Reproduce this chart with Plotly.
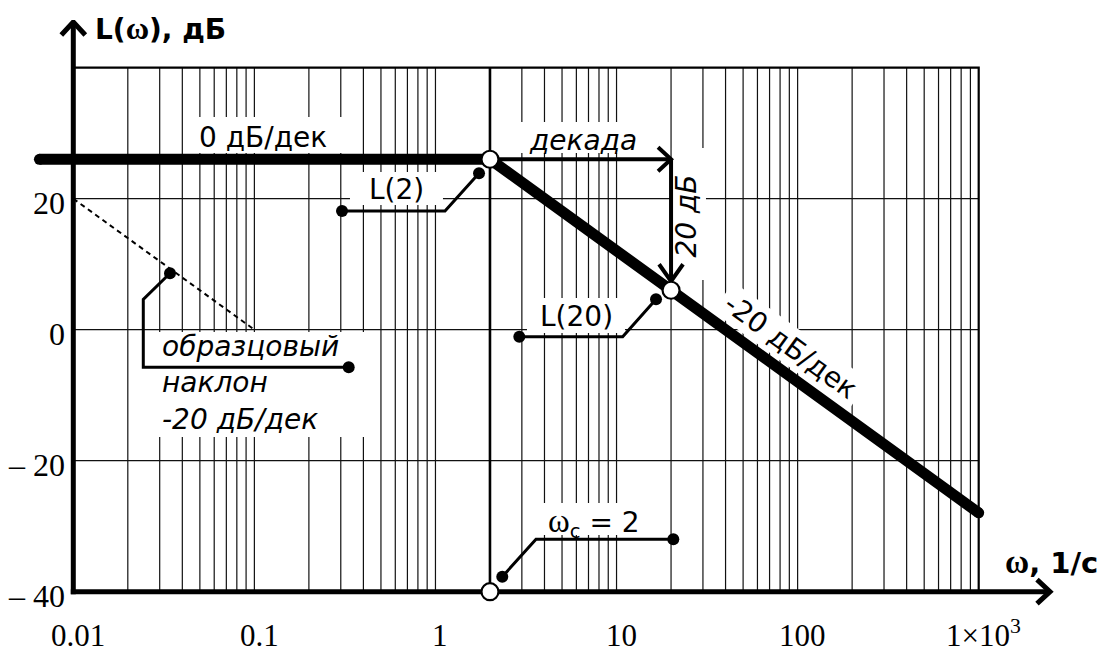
import numpy as np
import plotly.graph_objects as go

# ---------------- data ----------------
K_dB = 26.02                      # 20*lg(20)
w_c = 2.0                         # corner / crossover frequency
asym_w = [0.0065, 2.0, 1000.0]    # asymptotic LAFC
asym_L = [26.02, 26.02, -27.96]
ref_w = [0.01, 0.1]               # sample slope -20 dB/dec
ref_L = [20.0, 0.0]
open_pts_w = [2.0, 20.0, 2.0]
open_pts_L = [26.02, 6.02, -40.0]

grid_w = [k * 10.0 ** n for n in range(-2, 3) for k in range(1, 10)]
grid_L = [-20, 0, 20]
x_tick_vals = [0.01, 0.1, 1, 10, 100, 1000]
x_tick_text = ["0.01", "0.1", "1", "10", "100", "1×10<sup>3</sup>"]
y_tick_vals = [20, 0, -20, -40]
y_tick_text = ["20", "0", "– 20", "– 40"]

# callout leader polylines (w, dB)
lead_L2_w = [0.3048, 1.129, 1.740];   lead_L2_L = [18.12, 18.12, 23.88]
lead_L20_w = [2.904, 10.81, 16.52];   lead_L20_L = [-1.07, -1.07, 4.64]
lead_wc_w = [20.58, 3.591, 2.339];    lead_wc_L = [-32.0, -32.0, -37.71]
lead_ref_w = [0.0342, 0.02435, 0.02435, 0.3318]; lead_ref_L = [8.61, 4.64, -5.74, -5.74]

# ---------------- geometry ----------------
W, H = 1111, 657
PAGE_OFF = 8                       # default body margin of the html page
PL, PR, PT, PB = 20, 1080, 20, 640  # plot area on screen
ML, MT = PL - PAGE_OFF, PT - PAGE_OFF
MR, MB = W - (PR - PAGE_OFF), H - (PB - PAGE_OFF)
XPD = 181.08          # px per decade
YPD = 6.55            # px per dB
x_lo = -2 - (73.3 - PL) / XPD
x_hi = x_lo + (PR - PL) / XPD
y_hi = 40 + (67.7 - PT) / YPD
y_lo = y_hi - (PB - PT) / YPD


def wx(w, dx=0.0):
    return 10 ** (np.log10(w) + dx / XPD)


def ly(L, dy=0.0):
    return L - dy / YPD


def seg_trace(xs, ys, width, color="black", dash=None):
    return go.Scatter(x=xs, y=ys, mode="lines", hoverinfo="skip", showlegend=False,
                      line=dict(color=color, width=width, dash=dash))


fig = go.Figure()

# grid
gx, gy = [], []
for w in grid_w:
    gx += [w, w, None]; gy += [-40, 40, None]
for L in grid_L:
    gx += [0.01, 1000, None]; gy += [L, L, None]
fig.add_trace(seg_trace(gx, gy, 1.2, "#111111"))
fig.add_trace(seg_trace([0.01, 1000, 1000], [40, 40, -40], 2.2, "black"))

# white label backgrounds: (w, L, half-width px, half-height px, angle deg)
boxes = [
    (0.1182, 29.73, 77.5, 18, 0),
    (6.570, 29.34, 78.5, 15.5, 0),
    (0.6092, 21.56, 46.5, 16.5, 0),
    (5.970, 2.17, 49, 17.5, 0),
    (8.583, -28.9, 63.5, 16, 0),
    (0.1027, -8.37, 108.5, 52.5, 0),
    (25.12, 17.66, 17, 66, 0),
    (91.92, -2.49, 84, 18, 36),
]
for (bw, bL, hw, hh, ang) in boxes:
    t = np.radians(ang)
    xs, ys = [], []
    for (u, v) in [(-hw, -hh), (hw, -hh), (hw, hh), (-hw, hh), (-hw, -hh)]:
        dx = u * np.cos(t) - v * np.sin(t)
        dy = u * np.sin(t) + v * np.cos(t)
        xs.append(wx(bw, dx)); ys.append(ly(bL, dy))
    fig.add_trace(go.Scatter(x=xs, y=ys, mode="lines", fill="toself", fillcolor="white",
                             line=dict(width=0, color="white"), hoverinfo="skip", showlegend=False))

# crossover frequency vertical line
fig.add_trace(seg_trace([w_c, w_c], [-40, 40], 2.6))

# sample slope (dashed)
fig.add_trace(seg_trace(ref_w, ref_L, 2, dash="5px,4px"))

# asymptotic LAFC
fig.add_trace(seg_trace(asym_w, asym_L, 11))
fig.add_trace(go.Scatter(x=[asym_w[0], asym_w[-1]], y=[asym_L[0], asym_L[-1]], mode="markers",
                         marker=dict(size=11, color="black"), hoverinfo="skip", showlegend=False))

# axes with arrows
y_apex = ly(40, -45.7)
fig.add_trace(seg_trace([0.01, 0.01], [-40 - 2.5 / YPD, y_apex], 5))
fig.add_trace(seg_trace([wx(0.01, -12), 0.01, wx(0.01, 12)],
                        [ly(y_apex, 13), y_apex, ly(y_apex, 13)], 5))
x_apex = wx(1000, 71.3)
fig.add_trace(seg_trace([wx(0.01, -2.5), x_apex], [-40, -40], 5))
fig.add_trace(seg_trace([wx(x_apex, -13), x_apex, wx(x_apex, -13)],
                        [ly(-40, -12), -40, ly(-40, 12)], 5))

# "декада" arrow and "20 дБ" arrow
w_dec = 20.0
fig.add_trace(seg_trace([wx(w_c, 8), w_dec], [K_dB, K_dB], 4))
fig.add_trace(seg_trace([wx(w_dec, -13), w_dec, wx(w_dec, -13)],
                        [ly(K_dB, -12), K_dB, ly(K_dB, 12)], 4))
L20 = K_dB - 20
v_apex = ly(L20, -9)
fig.add_trace(seg_trace([w_dec, w_dec], [K_dB, v_apex], 4))
fig.add_trace(seg_trace([wx(w_dec, -12), w_dec, wx(w_dec, 12)],
                        [ly(v_apex, -17), v_apex, ly(v_apex, -17)], 4))

# leaders
for lw_, lL_ in [(lead_L2_w, lead_L2_L), (lead_L20_w, lead_L20_L),
                 (lead_wc_w, lead_wc_L), (lead_ref_w, lead_ref_L)]:
    fig.add_trace(seg_trace(lw_, lL_, 3))
    fig.add_trace(go.Scatter(x=[lw_[0], lw_[-1]], y=[lL_[0], lL_[-1]], mode="markers",
                             marker=dict(size=12, color="black"), hoverinfo="skip", showlegend=False))

# open circles
fig.add_trace(go.Scatter(x=open_pts_w, y=open_pts_L, mode="markers", hoverinfo="skip", showlegend=False,
                         marker=dict(size=17, color="white", line=dict(color="black", width=2.2))))

# ---------------- annotations ----------------
SANS = "DejaVu Sans, Verdana, sans-serif"
SERIF = "Liberation Serif, Times New Roman, serif"
ann = []


def text(w, L, s, size=28, family=SANS, xanchor="center", angle=0, align="center"):
    ann.append(dict(x=np.log10(w), y=L, xref="x", yref="y", text=s, showarrow=False,
                    xanchor=xanchor, yanchor="middle", textangle=angle, align=align,
                    font=dict(family=family, size=size, color="black")))


for v, s in zip(x_tick_vals, x_tick_text):
    ann.append(dict(x=np.log10(v), y=-40, xref="x", yref="y", text=s, showarrow=False,
                    xanchor="center", yanchor="bottom", xshift=5, yshift=-63,
                    font=dict(family=SERIF, size=31, color="black")))
for v, s in zip(y_tick_vals, y_tick_text):
    ann.append(dict(x=np.log10(0.01), y=v, xref="x", yref="y", text=s, showarrow=False,
                    xanchor="right", yanchor="middle", xshift=-6, yshift=-4,
                    font=dict(family=SERIF, size=32, color="black")))


def omega(px):
    return ("<span style=\"font-family:'Liberation Serif',serif;font-size:%dpx\">ω</span>" % px)


text(0.01285, 46.0, "<b>L(" + omega(32) + "), дБ</b>", xanchor="left")
text(1362, -35.47, "<b>" + omega(33) + ", 1/c</b>", size=29, xanchor="left")
text(0.1109, 29.27, "0 дБ/дек")
text(6.527, 28.96, "<i>декада</i>")
text(0.6109, 21.33, "L(2)")
text(6.009, 1.94, "L(20)")
text(7.508, -29.51, omega(33) + "<sub>c</sub> = 2")
text(24.35, 17.36, "<i>20 дБ</i>", angle=-90)
text(91.92, -2.49, "-20 дБ/дек", angle=36)
text(0.03012, -8.21, "<i>образцовый<br>наклон<br>-20 дБ/дек</i>", xanchor="left", align="left")

fig.update_layout(
    width=W, height=H, margin=dict(l=ML, r=MR, t=MT, b=MB),
    paper_bgcolor="white", plot_bgcolor="white", showlegend=False,
    xaxis=dict(type="log", range=[x_lo, x_hi], visible=False, fixedrange=True),
    yaxis=dict(range=[y_lo, y_hi], visible=False, fixedrange=True),
    annotations=ann,
)
fig.write_html("out.html")
